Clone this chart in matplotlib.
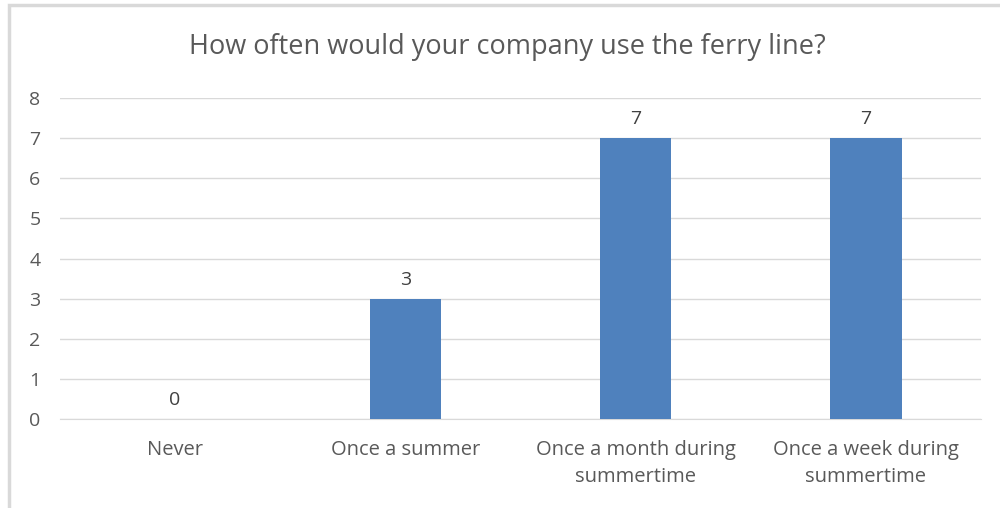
import matplotlib
matplotlib.use('Agg')
import matplotlib.pyplot as plt
from matplotlib.patches import Rectangle

categorias = ['Never', 'Once a summer', 'Once a month during\nsummertime',
              'Once a week during\nsummertime']
valores = [0, 3, 7, 7]
titulo = 'How often would your company use the ferry line?'

color_barra = '#4f81bd'
color_texto = '#595959'
color_rejilla = '#d9d9d9'

plt.rcParams['font.family'] = ['Open Sans', 'DejaVu Sans']

fig = plt.figure(figsize=(10, 5.08), dpi=100)
ax = fig.add_axes([0.060, 1 - 419 / 508, 0.921, 321 / 508])

# marco exterior del grafico
fig.patches.append(Rectangle((9 / 1000, -0.05), 1.05, (508 - 5) / 508 + 0.05,
                             transform=fig.transFigure, fill=False,
                             edgecolor='#d9d9d9', linewidth=2.5))

x = range(len(categorias))
barras = ax.bar(x, valores, width=0.31, color=color_barra, zorder=3)
for xi, v in zip(x, valores):
    ax.text(xi, v + 0.25, str(v), ha='center', va='bottom',
            fontsize=14, color='#404040')

ax.set_xlim(-0.5, len(categorias) - 0.5)
ax.set_ylim(0, 8)
ax.set_yticks(range(0, 9))
ax.set_xticks(list(x))
ax.set_xticklabels(categorias, fontsize=14.5, color=color_texto, linespacing=1.5)
ax.tick_params(axis='y', labelsize=14, labelcolor=color_texto, length=0, pad=14)
ax.tick_params(axis='x', length=0, pad=15)
ax.grid(axis='y', color=color_rejilla, linewidth=1, zorder=0)
for s in ['top', 'right', 'left']:
    ax.spines[s].set_visible(False)
ax.spines['bottom'].set_color(color_rejilla)

fig.text(0.507, 1 - 47 / 508, titulo, ha='center', va='center',
         fontsize=19.5, color=color_texto)

fig.savefig('out.png', dpi=100)
